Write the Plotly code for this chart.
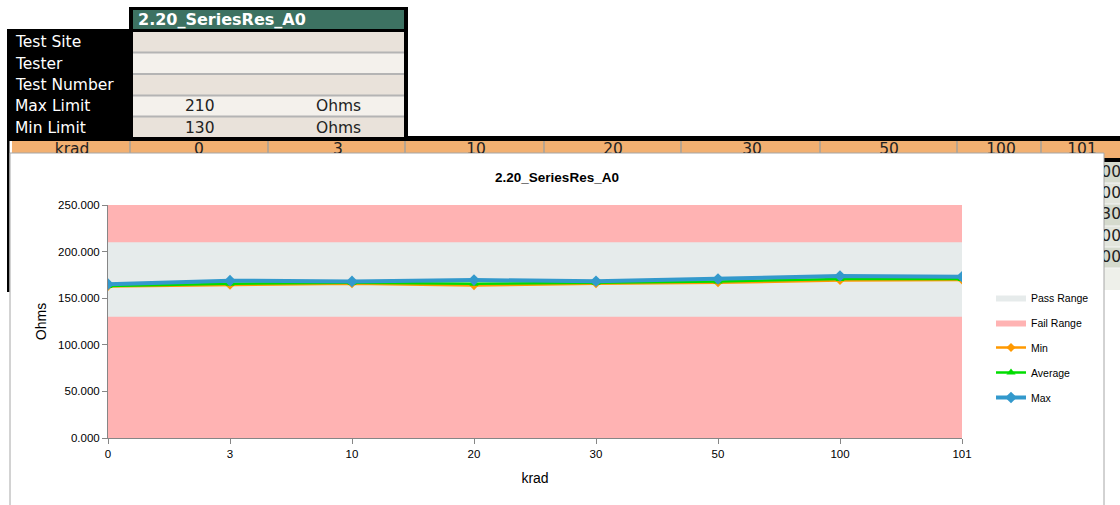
import plotly.graph_objects as go

W, H = 1120, 505

# ---- data ----
krad_labels = ["0", "3", "10", "20", "30", "50", "100", "101"]
min_vals = [162.5, 164.0, 165.5, 163.5, 165.5, 166.5, 169.0, 169.5]
avg_vals = [163.0, 165.5, 166.5, 165.5, 166.5, 168.0, 170.5, 170.5]
max_vals = [165.0, 168.8, 168.0, 169.5, 168.2, 170.6, 173.8, 173.0]
max_limit = 210
min_limit = 130
axis_top = 250

chart_title = "2.20_SeriesRes_A0"
sheet_labels = ["Test Site", "Tester", "Test Number", "Max Limit", "Min Limit"]
sheet_values = ["", "", "", "210", "130"]
sheet_units = ["", "", "", "Ohms", "Ohms"]
header_cols = ["krad"] + krad_labels
right_cell_tails = ["00", "00", "30", "00", "00"]


def px(x):
    return x / W


def py(y):
    return 1 - y / H


xs = list(range(len(krad_labels)))
n = len(xs)

fig = go.Figure()

# ---- range bands (stacked areas) ----
fig.add_trace(go.Scatter(x=xs, y=[axis_top] * n, mode="lines", fill="tozeroy",
                         fillcolor="#FFB3B3", line=dict(width=0, color="#FFB3B3"),
                         name="Fail Range", legendgroup="fail", legendrank=2,
                         hoverinfo="skip"))
fig.add_trace(go.Scatter(x=xs, y=[max_limit] * n, mode="lines", fill="tozeroy",
                         fillcolor="#E6EBEB", line=dict(width=0, color="#E6EBEB"),
                         name="Pass Range", legendgroup="pass", legendrank=1,
                         hoverinfo="skip"))
fig.add_trace(go.Scatter(x=xs, y=[min_limit] * n, mode="lines", fill="tozeroy",
                         fillcolor="#FFB3B3", line=dict(width=0, color="#FFB3B3"),
                         name="Fail Range", legendgroup="fail", showlegend=False,
                         hoverinfo="skip"))

# ---- series ----
fig.add_trace(go.Scatter(x=xs, y=min_vals, mode="lines+markers", name="Min",
                         line=dict(color="#FF9900", width=2.5),
                         marker=dict(symbol="diamond", size=7, color="#FF9900"),
                         legendgroup="min", legendrank=3))
fig.add_trace(go.Scatter(x=xs, y=avg_vals, mode="lines+markers", name="Average",
                         line=dict(color="#00DD00", width=2.5),
                         marker=dict(symbol="triangle-up", size=8, color="#00DD00"),
                         legendgroup="avg", legendrank=4))
fig.add_trace(go.Scatter(x=xs, y=max_vals, mode="lines+markers", name="Max",
                         line=dict(color="#3399CC", width=4),
                         marker=dict(symbol="diamond", size=9, color="#3399CC"),
                         legendgroup="max", legendrank=5))

# ---- spreadsheet text partly hidden behind the chart (clipped) ----
header_x = [72, 199, 338, 476, 613, 752, 889, 1001, 1082]
fig.add_trace(go.Scatter(x=header_x, y=[150] * len(header_cols), mode="text",
                         text=header_cols, textposition="middle center",
                         textfont=dict(family="DejaVu Sans", size=15.5, color="#222222"),
                         xaxis="x2", yaxis="y2", showlegend=False, hoverinfo="skip",
                         cliponaxis=True))
right_y = [173, 194, 215, 237, 258]
fig.add_trace(go.Scatter(x=[1121] * len(right_cell_tails), y=right_y, mode="text",
                         text=right_cell_tails, textposition="middle left",
                         textfont=dict(family="DejaVu Sans", size=15.5, color="#222222"),
                         xaxis="x3", yaxis="y3", showlegend=False, hoverinfo="skip",
                         cliponaxis=True))

shapes = []


def rect(x0, y0, x1, y1, fill, line_color=None, lw=0):
    shapes.append(dict(type="rect", xref="paper", yref="paper",
                       x0=px(x0), x1=px(x1), y0=py(y1), y1=py(y0),
                       fillcolor=fill, line=dict(width=lw, color=line_color or fill),
                       layer="below"))


def hline(x0, x1, y, color, lw=1):
    shapes.append(dict(type="line", xref="paper", yref="paper",
                       x0=px(x0), x1=px(x1), y0=py(y), y1=py(y),
                       line=dict(width=lw, color=color), layer="below"))


def vline(x, y0, y1, color, lw=1):
    shapes.append(dict(type="line", xref="paper", yref="paper",
                       x0=px(x), x1=px(x), y0=py(y0), y1=py(y1),
                       line=dict(width=lw, color=color), layer="below"))


# black table background
rect(129, 7, 408, 31, "#000000")
rect(7, 29, 408, 141, "#000000")
rect(404, 136, 1120, 141, "#000000")
# green header cell
rect(133, 10, 404, 29, "#3D7262")
# info rows
row_bounds = [(32, 52), (53, 74), (74, 95), (96, 116), (117, 137)]
row_fill = ["#E9E2DA", "#F4F1EC", "#E9E2DA", "#F4F1EC", "#E9E2DA"]
for (a, b), f in zip(row_bounds, row_fill):
    rect(133, a, 404, b, f)
for yy in [52.5, 74, 95.5, 116.5]:
    hline(133, 404, yy, "#B4B4B4", 2)
# orange krad row
rect(12, 141, 1120, 158, "#F2B071")
for xx in [130, 268, 405, 544, 681, 820, 957, 1041]:
    vline(xx, 141, 158, "#B9A58F", 2)
# left black border
rect(7, 141, 9.5, 292, "#000000")
# right-hand cells
rect(1104, 158, 1120, 162, "#000000")
right_bounds = [(162, 183), (183, 204), (204, 226), (226, 247), (247, 268), (268, 290)]
right_fill = ["#D5DACD", "#E2E5DC", "#D5DACD", "#E2E5DC", "#D5DACD", "#EEF0EA"]
for (a, b), f in zip(right_bounds, right_fill):
    rect(1104, a, 1120, b, f)
for yy in [183, 204, 226, 247, 268]:
    hline(1104, 1120, yy, "#F4F4F4", 1)
# chart box
rect(10, 153, 1104, 507, "#FFFFFF", "#A6A6A6", 1)

annotations = []
annotations.append(dict(text="<b>2.20_SeriesRes_A0</b>", xref="paper", yref="paper",
                        x=px(136), y=py(19.5), xanchor="left", yanchor="middle",
                        showarrow=False,
                        font=dict(family="DejaVu Sans", size=16, color="#FFFFFF")))
row_centers = [42, 63.5, 85, 106.5, 127.5]
for lab, val, unit, yc in zip(sheet_labels, sheet_values, sheet_units, row_centers):
    annotations.append(dict(text=lab, xref="paper", yref="paper", x=px(13), y=py(yc),
                            xanchor="left", yanchor="middle", showarrow=False,
                            font=dict(family="DejaVu Sans", size=15.5, color="#FFFFFF")))
    if val:
        annotations.append(dict(text=val, xref="paper", yref="paper", x=px(200), y=py(yc),
                                xanchor="center", yanchor="middle", showarrow=False,
                                font=dict(family="DejaVu Sans", size=15.5, color="#222222")))
    if unit:
        annotations.append(dict(text=unit, xref="paper", yref="paper", x=px(338), y=py(yc),
                                xanchor="center", yanchor="middle", showarrow=False,
                                font=dict(family="DejaVu Sans", size=15.5, color="#222222")))

font_chart = "Liberation Sans"

fig.update_layout(
    template="none",
    width=W, height=H,
    margin=dict(l=0, r=0, t=0, b=0, pad=0, autoexpand=False),
    paper_bgcolor="#FFFFFF",
    plot_bgcolor="rgba(0,0,0,0)",
    shapes=shapes,
    annotations=annotations,
    title=dict(text="<b>" + chart_title + "</b>", x=px(557), y=py(177),
               xanchor="center", yanchor="middle",
               font=dict(family=font_chart, size=13.5, color="#000000")),
    xaxis=dict(domain=[px(108), px(962)], range=[0, n - 1], automargin=False,
               tickmode="array", tickvals=xs, ticktext=krad_labels,
               showgrid=False, zeroline=False, showline=True, linecolor="#868686",
               linewidth=1, ticks="outside", ticklen=5, tickcolor="#868686",
               tickfont=dict(family=font_chart, size=11.5, color="#000000"),
               title=dict(text="krad", standoff=14,
                          font=dict(family=font_chart, size=14, color="#000000")),
               fixedrange=True),
    yaxis=dict(domain=[py(438), py(205)], range=[0, axis_top], automargin=False,
               tickmode="linear", tick0=0, dtick=50, tickformat=".3f",
               showgrid=False, zeroline=False, showline=True, linecolor="#868686",
               linewidth=1, ticks="outside", ticklen=5, tickcolor="#868686",
               tickfont=dict(family=font_chart, size=11.5, color="#000000"),
               title=dict(text="Ohms", standoff=8,
                          font=dict(family=font_chart, size=14, color="#000000")),
               fixedrange=True),
    xaxis2=dict(domain=[0, 1], range=[0, W], visible=False, fixedrange=True,
                anchor="y2", automargin=False),
    yaxis2=dict(domain=[py(153), py(141)], range=[153, 141], visible=False,
                fixedrange=True, anchor="x2", automargin=False),
    xaxis3=dict(domain=[px(1104), 1], range=[1104, 1120], visible=False,
                fixedrange=True, anchor="y3", automargin=False),
    yaxis3=dict(domain=[py(268), py(162)], range=[268, 162], visible=False,
                fixedrange=True, anchor="x3", automargin=False),
    legend=dict(x=px(991), y=py(283), xanchor="left", yanchor="top",
                bgcolor="rgba(0,0,0,0)", borderwidth=0, tracegroupgap=6, itemwidth=30,
                font=dict(family=font_chart, size=10.5, color="#000000")),
    showlegend=True,
)

fig.write_html(
    "out.html",
    config={"displayModeBar": False},
    post_script="document.body.style.margin='0';document.body.style.overflow='hidden';",
)
